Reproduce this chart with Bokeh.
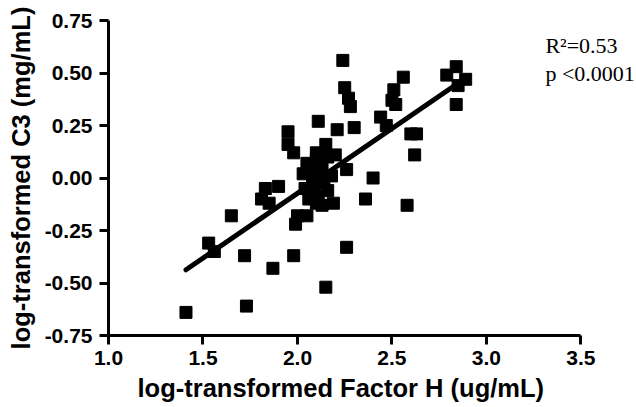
from bokeh.plotting import figure
from bokeh.models import Range1d, FixedTicker, Label, Title
from bokeh.embed import file_html
from bokeh.resources import INLINE

# log-transformed Factor H (ug/mL)
factor_h = [1.41, 1.53, 1.56, 1.65, 1.72, 1.73, 1.81, 1.83, 1.85, 1.87,
            1.90, 1.95, 1.95, 1.98, 1.98, 2.00, 1.99, 2.05, 2.11, 2.15,
            2.10, 2.21, 2.24, 2.25, 2.27, 2.28, 2.30, 2.26, 2.19, 2.26,
            2.15, 2.36, 2.40, 2.44, 2.47, 2.51, 2.50, 2.52, 2.56, 2.60,
            2.63, 2.62, 2.58, 2.79, 2.84, 2.89, 2.85, 2.84,
            2.03, 2.05, 2.07, 2.08, 2.09, 2.10, 2.11, 2.12, 2.13, 2.14,
            2.16, 2.16, 2.18, 2.10, 2.06, 2.13, 2.04, 2.20]
# log-transformed C3 (mg/mL)
c3 = [-0.64, -0.31, -0.35, -0.18, -0.37, -0.61, -0.10, -0.05, -0.12, -0.43,
      -0.04, 0.22, 0.16, 0.12, -0.37, -0.18, -0.22, -0.18, 0.27, 0.16,
      0.12, 0.23, 0.56, 0.43, 0.38, 0.34, 0.24, 0.04, -0.12, -0.33,
      -0.52, -0.10, 0.00, 0.29, 0.25, 0.42, 0.37, 0.35, 0.48, 0.21,
      0.21, 0.11, -0.13, 0.49, 0.53, 0.47, 0.44, 0.35,
      0.02, 0.07, 0.04, 0.00, -0.05, 0.09, -0.09, 0.03, 0.06, -0.02,
      0.10, -0.06, 0.01, -0.12, -0.10, -0.13, -0.05, 0.11]

# linear regression
fit_slope = 0.617
fit_intercept = -1.307

x_ticks = [1.0, 1.5, 2.0, 2.5, 3.0, 3.5]
x_tick_labels = ["1.0", "1.5", "2.0", "2.5", "3.0", "3.5"]
y_ticks = [-0.75, -0.5, -0.25, 0.0, 0.25, 0.5, 0.75]
y_tick_labels = ["-0.75", "-0.50", "-0.25", "0.00", "0.25", "0.50", "0.75"]

x_title = "log-transformed Factor H (ug/mL)"
y_title = "log-transformed C3 (mg/mL)"
stat_r2 = "R\u00b2=0.53"
stat_p = "p <0.0001"

p = figure(width=636, height=407, output_backend="svg", toolbar_location=None,
           x_range=Range1d(1.0, 3.794), y_range=Range1d(-0.75, 0.75),
           min_border_left=108, min_border_right=0,
           min_border_top=20, min_border_bottom=72)
p.outline_line_color = None
p.grid.visible = False
p.background_fill_color = "white"
p.border_fill_color = "white"

for ax, ticks, labels in ((p.xaxis[0], x_ticks, x_tick_labels),
                          (p.yaxis[0], y_ticks, y_tick_labels)):
    ax.ticker = FixedTicker(ticks=ticks)
    ax.major_label_overrides = {t: l for t, l in zip(ticks, labels)}
    ax.axis_line_width = 3
    ax.axis_line_color = "black"
    ax.major_tick_line_width = 3
    ax.major_tick_line_color = "black"
    ax.major_tick_out = 9
    ax.major_tick_in = 0
    ax.minor_tick_line_color = None
    ax.major_label_text_font = "Liberation Sans"
    ax.major_label_text_font_style = "bold"
    ax.major_label_text_font_size = "21px"
    ax.major_label_text_color = "black"
p.xaxis[0].bounds = (x_ticks[0], x_ticks[-1])
p.xaxis[0].major_label_standoff = 6
p.yaxis[0].major_label_standoff = 7
p.yaxis[0].axis_label = y_title
p.yaxis[0].axis_label_text_font = "Liberation Sans"
p.yaxis[0].axis_label_text_font_style = "bold"
p.yaxis[0].axis_label_text_font_size = "25.5px"
p.yaxis[0].axis_label_text_color = "black"
p.yaxis[0].axis_label_standoff = 7

p.add_layout(Title(text=x_title, align="left", offset=29, standoff=8,
                   text_font="Liberation Sans", text_font_style="bold",
                   text_font_size="25.5px", text_color="black"), "below")

p.scatter(factor_h, c3, marker="square", size=12, color="black")

fx = [min(factor_h), max(factor_h)]
fy = [fit_slope * v + fit_intercept for v in fx]
p.line(fx, fy, line_width=5, color="black", line_cap="round")

p.add_layout(Label(x=3.312, y=0.633, text=stat_r2, text_align="left",
                   text_baseline="alphabetic", text_font="Liberation Serif",
                   text_font_size="22px", text_color="black"))
p.add_layout(Label(x=3.312, y=0.50, text=stat_p, text_align="left",
                   text_baseline="alphabetic", text_font="Liberation Serif",
                   text_font_size="22px", text_color="black"))

open("out.html", "w").write(file_html(p, INLINE))
